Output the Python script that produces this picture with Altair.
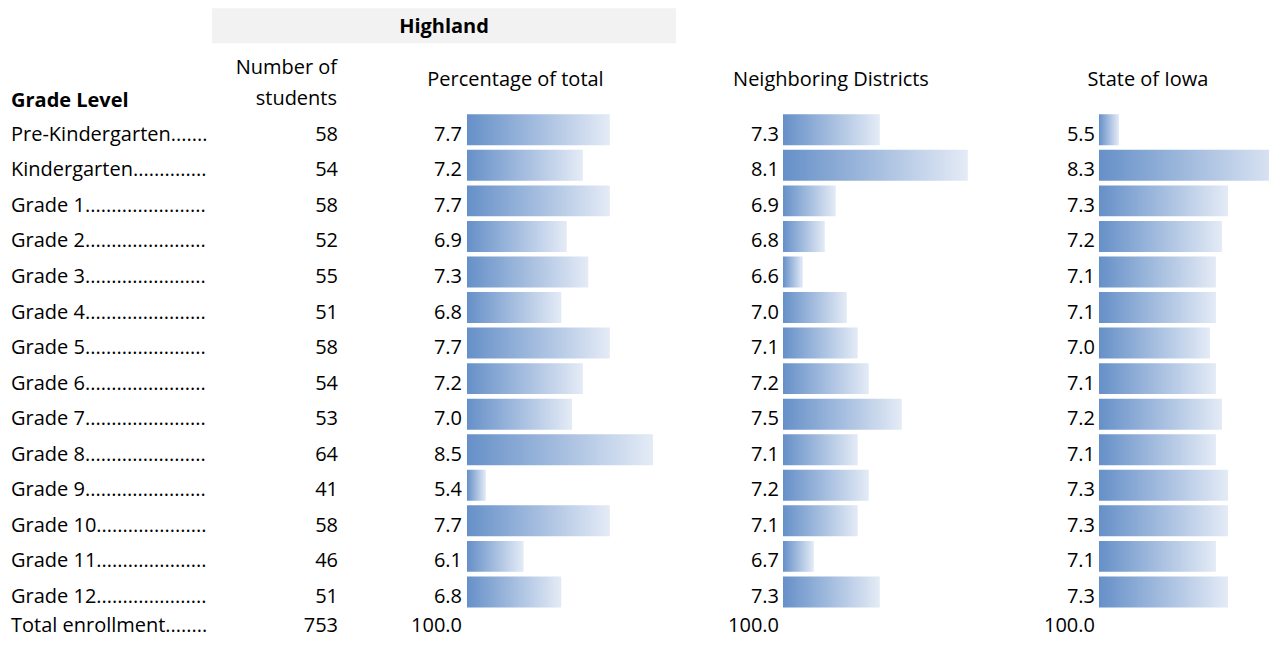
import altair as alt
import pandas as pd

FONT = "Open Sans"
FS = 20

grades = ["Pre-Kindergarten", "Kindergarten", "Grade 1", "Grade 2", "Grade 3",
          "Grade 4", "Grade 5", "Grade 6", "Grade 7", "Grade 8", "Grade 9",
          "Grade 10", "Grade 11", "Grade 12"]
students = [58, 54, 58, 52, 55, 51, 58, 54, 53, 64, 41, 58, 46, 51]
pct_highland = [7.7, 7.2, 7.7, 6.9, 7.3, 6.8, 7.7, 7.2, 7.0, 8.5, 5.4, 7.7, 6.1, 6.8]
pct_neighbor = [7.3, 8.1, 6.9, 6.8, 6.6, 7.0, 7.1, 7.2, 7.5, 7.1, 7.2, 7.1, 6.7, 7.3]
pct_iowa = [5.5, 8.3, 7.3, 7.2, 7.1, 7.1, 7.0, 7.1, 7.2, 7.1, 7.3, 7.3, 7.1, 7.3]
total_label = "Total enrollment"
total_students = 753
total_pct = [100.0, 100.0, 100.0]
group_name = "Highland"

rows = pd.DataFrame({
    "label": grades + [total_label],
    "students": students + [total_students],
    "hl": pct_highland + [total_pct[0]],
    "nb": pct_neighbor + [total_pct[1]],
    "ia": pct_iowa + [total_pct[2]],
    "kind": ["grade"] * len(grades) + ["total"],
})
order = grades + [total_label]

STEP = 35.55
RANGE = 15 * STEP          # full band range
TOP = 106 - 0.065 * STEP   # view top inside the chart
H = 631 - TOP              # view height (chart must fit the page)

gradient = alt.Gradient(
    gradient="linear",
    stops=[alt.GradientStop(offset=0, color="#6690C8"),
           alt.GradientStop(offset=1, color="#E4EBF6")],
    x1=0, x2=1, y1=0, y2=0,
)

yenc = alt.Y("label:N", sort=order,
             scale=alt.Scale(domain=order, paddingInner=0.13, paddingOuter=0.065,
                             range=[0, RANGE]),
             axis=None)

base = alt.Chart(rows)
grade_rows = base.transform_filter("datum.kind == 'grade'")
total_rows = base.transform_filter("datum.kind == 'total'")


def text_layers(x_px, text, align, **extra):
    common = dict(font=FONT, fontSize=FS, color="black", baseline="middle",
                  align=align, **extra)
    enc = dict(y=yenc, x=alt.value(x_px), text=text)
    return [grade_rows.mark_text(dy=5, **common).encode(**enc),
            total_rows.mark_text(dy=-1.5, **common).encode(**enc)]


def title(text, **kw):
    return alt.TitleParams(text, font=FONT, fontSize=FS, color="black", frame="group",
                           baseline="bottom",
                           fontWeight=kw.pop("fontWeight", "normal"), **kw)


label_panel = alt.layer(
    *text_layers(3, "lead:N", "left", limit=197, ellipsis=".")
).transform_calculate(
    lead="pad(datum.label, 90, '.')"
).properties(width=204, height=H,
             title=title("Grade Level", anchor="start", dx=3, fontWeight="bold",
                         offset=-19))

# group header box (spans the Number and Percentage columns)
box_data = alt.Chart(pd.DataFrame({"group": [group_name]}))
box = box_data.mark_rect(color="#F2F2F2").encode(
    x=alt.value(0), x2=alt.value(464), y=alt.value(-TOP), y2=alt.value(-TOP + 35))
box_text = box_data.mark_text(font=FONT, fontSize=FS, fontWeight="bold",
                              color="black", baseline="middle", dy=1.5).encode(
    x=alt.value(232), y=alt.value(-TOP + 17.5), text="group:N")
box_panel = alt.layer(box, box_text).properties(width=1, height=H)

num_panel = alt.layer(
    *text_layers(125, alt.Text("students:Q", format="d"), "right")
).properties(
    width=124, height=H,
    title=title(["Number of", "students"], anchor="end", dx=0,
                lineHeight=31, offset=-17))


def pct_panel(field, dmin, dmax, rmin, width, label_x, head, dx):
    bars = grade_rows.mark_bar(fill=gradient, strokeWidth=0, clip=True).encode(
        y=yenc,
        x=alt.X(f"{field}:Q",
                scale=alt.Scale(domain=[dmin, dmax], range=[rmin, width],
                                nice=False, zero=False),
                axis=None),
        x2=alt.datum(dmin),
    )
    vals = text_layers(label_x, alt.Text(f"{field}:Q", format=".1f"), "right")
    return alt.layer(bars, *vals).properties(
        width=width, height=H,
        title=title(head, anchor="middle", dx=dx, offset=2))


p1 = pct_panel("hl", 5.05, 5.05 + 209 / 53.9, 130, 339, 125, "Percentage of total", 9)
p2 = pct_panel("nb", 6.42, 6.42 + 217 / 110.0, 107, 324, 103, "Neighboring Districts", -7)
p3 = pct_panel("ia", 5.17, 5.17 + 170 / 60.6, 99, 269, 95, "State of Iowa", 13.5)

chart = alt.hconcat(label_panel, box_panel, num_panel, p1, p2, p3,
                    spacing=0, bounds="flush").properties(
    padding=0, background="white"
).configure_view(stroke=None)

chart.save("out.html", embed_options={"renderer": "svg", "actions": False})
